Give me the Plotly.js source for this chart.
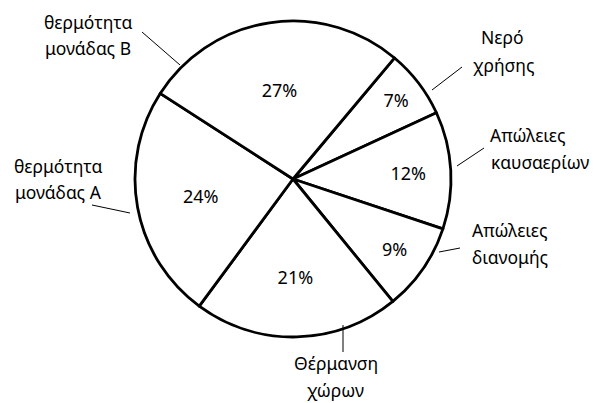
<!DOCTYPE html>
<html>
<head>
<meta charset="utf-8">
<script src="https://cdn.plot.ly/plotly-3.0.1.min.js"></script>
<style>html,body{margin:0;padding:0;background:#fff;}#chart{width:595px;height:403px;}</style>
</head>
<body>
<div id="chart"></div>
<script>
// Data (clockwise from the top-right slice)
const categories = ["Νερό χρήσης", "Απώλειες καυσαερίων", "Απώλειες διανομής", "Θέρμανση χώρων", "θερμότητα μονάδας Α", "θερμότητα μονάδας Β"];
const values = [7, 12, 9, 21, 24, 27];
// Label text lines as shown outside the pie
const labelLines = [
  ["Νερό", "χρήσης"],
  ["Απώλειες", "καυσαερίων"],
  ["Απώλειες", "διανομής"],
  ["Θέρμανση", "χώρων"],
  ["θερμότητα", "μονάδας Α"],
  ["θερμότητα", "μονάδας Β"]
];

const W = 595, H = 403;
const px = x => x / W, py = y => 1 - y / H;
const FONT = "Noto Sans, sans-serif";

// label placement (pixel centres of each text line) and leader lines
const labelPos = [
  [[502, 37], [503, 65]],
  [[527, 135], [540, 162]],
  [[509, 230], [510, 257]],
  [[336, 363], [335, 390]],
  [[58, 166], [58, 192]],
  [[88, 22], [88, 48]]
];
const leaders = [
  [[462, 67], [432, 90]],
  [[484, 148], [457, 166]],
  [[460, 248], [439, 252]],
  [[343, 325], [343, 352]],
  [[92, 205], [130, 213]],
  [[142, 32], [180, 65]]
];

const annotations = [];
labelLines.forEach((lines, i) => {
  lines.forEach((t, j) => {
    annotations.push({
      text: t, showarrow: false, xref: "paper", yref: "paper",
      x: px(labelPos[i][j][0]), y: py(labelPos[i][j][1]),
      xanchor: "center", yanchor: "middle",
      font: {family: FONT, size: 17.5, color: "#000"}
    });
  });
});
const shapes = leaders.map(l => ({
  type: "line", xref: "paper", yref: "paper",
  x0: px(l[0][0]), y0: py(l[0][1]), x1: px(l[1][0]), y1: py(l[1][1]),
  line: {color: "#000", width: 1}
}));

const cx = 293, cy = 179, r = 158;
const trace = {
  type: "pie",
  labels: categories,
  values: values,
  sort: false,
  direction: "clockwise",
  rotation: 40,
  textinfo: "percent",
  texttemplate: "%{percent:.0%}",
  textposition: "inside",
  insidetextorientation: "horizontal",
  textfont: {family: FONT, size: 18, color: "#000"},
  marker: {colors: values.map(() => "#ffffff"), line: {color: "#000", width: 2.8}},
  domain: {x: [px(cx - r), px(cx + r)], y: [py(cy + r), py(cy - r)]},
  hoverinfo: "label+percent",
  showlegend: false
};

Plotly.newPlot("chart", [trace], {
  width: W, height: H,
  margin: {l: 0, r: 0, t: 0, b: 0},
  paper_bgcolor: "#fff",
  showlegend: false,
  annotations: annotations,
  shapes: shapes,
  font: {family: FONT}
}, {displayModeBar: false, staticPlot: true});
</script>
</body>
</html>
